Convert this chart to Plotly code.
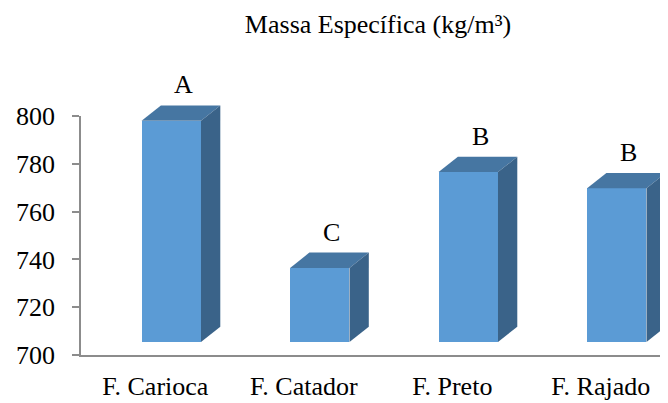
import plotly.graph_objects as go

# ---- data ----
categories = ["F. Carioca", "F. Catador", "F. Preto", "F. Rajado"]
values = [792.6, 731.0, 771.1, 764.3]
letters = ["A", "C", "B", "B"]
y_ticks = [700, 720, 740, 760, 780, 800]
title_text = "Massa Específica (kg/m³)"

# ---- style / geometry ----
FONT = "Times New Roman, Liberation Serif, Tinos, DejaVu Serif, Noto Serif, serif"
FS = 26
front_col = "#5B9BD5"
top_col = "#4676A2"
side_col = "#3A6389"
floor = 700
raise_y = 5.44      # front face raised (depth projection)
bar_w = 0.40
bar_off = -0.092
dx = 0.130          # depth in x units
dy = 6.4            # depth in value units
axis_col = "#8C8C8C"

PAGE = 8            # page body offset
W, H = 668, 403
L, R, T, B = 81 - PAGE, PAGE, 60 - PAGE, 403 - (355 - PAGE)
ph = H - T - B
px_per_unit = 239 / 100
y2_top = floor + ph / px_per_unit
x_end = (W - L - R) / 148.5 - 0.5

xs = list(range(len(categories)))
fig = go.Figure()

fig.add_trace(go.Scatter(x=[None], y=[None], xaxis="x", yaxis="y",
                         showlegend=False, hoverinfo="skip"))

fig.add_trace(go.Bar(
    x=xs, y=[v - floor for v in values], base=floor + raise_y,
    width=bar_w, offset=bar_off, marker=dict(color=front_col, line=dict(width=0)),
    xaxis="x", yaxis="y2", showlegend=False, hoverinfo="skip"))

for i, v in enumerate(values):
    xl = xs[i] + bar_off
    xr = xl + bar_w
    top = v + raise_y
    base = floor + raise_y
    fig.add_trace(go.Scatter(
        x=[xl, xr, xr + dx, xl + dx, xl], y=[top, top, top + dy, top + dy, top],
        fill="toself", fillcolor=top_col, mode="lines", line=dict(width=0, color=top_col),
        xaxis="x", yaxis="y2", showlegend=False, hoverinfo="skip"))
    fig.add_trace(go.Scatter(
        x=[xr, xr, xr + dx, xr + dx, xr], y=[base, top, top + dy, base + dy, base],
        fill="toself", fillcolor=side_col, mode="lines", line=dict(width=0, color=side_col),
        xaxis="x", yaxis="y2", showlegend=False, hoverinfo="skip"))
    fig.add_annotation(
        x=xs[i] + bar_off + bar_w / 2 + 0.08, y=top + dy, xref="x", yref="y2",
        text=letters[i], showarrow=False, yanchor="bottom", yshift=4,
        font=dict(family=FONT, size=FS, color="#000"))

fig.update_layout(
    width=W, height=H,
    margin=dict(l=L, r=R, t=T, b=B),
    paper_bgcolor="white", plot_bgcolor="white",
    title=dict(text=title_text, x=(378 - PAGE) / W, xref="container", xanchor="center",
               y=1 - (24 - PAGE) / H, yanchor="middle", yref="container",
               font=dict(family=FONT, size=FS, color="#000")),
    xaxis=dict(range=[-0.5, x_end], tickvals=xs, ticktext=categories, ticks="",
               showline=True, linecolor=axis_col, linewidth=1.5, showgrid=False,
               zeroline=False, tickfont=dict(family=FONT, size=FS, color="#000"),
               ticklabelstandoff=7, anchor="y"),
    xaxis2=dict(range=[-0.5, x_end], overlaying="x", anchor="y", side="bottom",
                tickvals=[-0.5, 0.5, 1.5, 2.5], ticks="outside", ticklen=7,
                tickcolor=axis_col, tickwidth=1.5, showticklabels=False,
                showgrid=False, zeroline=False, showline=False),
    yaxis=dict(domain=[0, 239 / ph], range=[700, 800], tickvals=y_ticks,
               ticks="outside", ticklen=7, tickcolor=axis_col, tickwidth=1.5,
               showline=True, linecolor=axis_col, linewidth=1.5, showgrid=False,
               zeroline=False, tickfont=dict(family=FONT, size=FS, color="#000"),
               ticklabelstandoff=12, anchor="x"),
    yaxis2=dict(domain=[0, 1], range=[floor, y2_top], visible=False, anchor="x"),
    bargap=0,
)

fig.write_html("out.html")
